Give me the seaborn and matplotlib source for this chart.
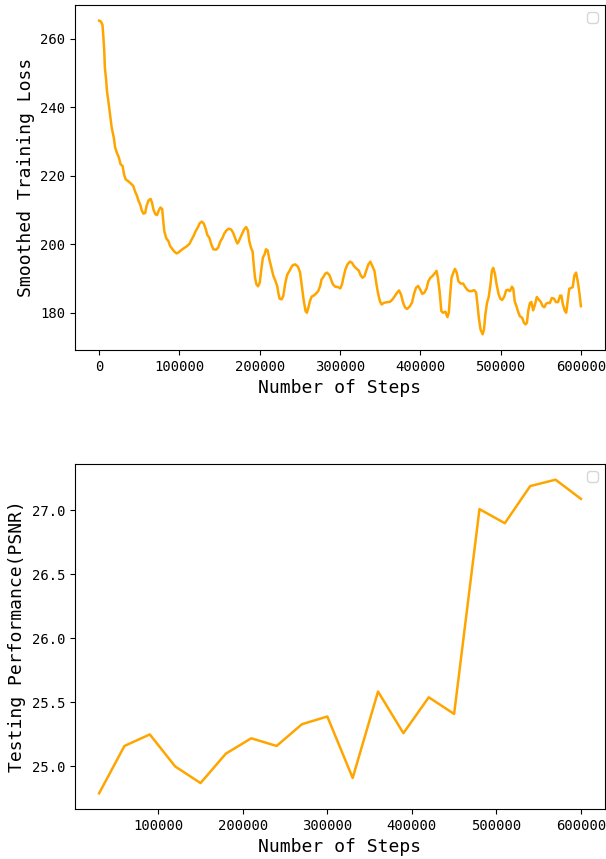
import matplotlib
matplotlib.use("Agg")
import matplotlib.pyplot as plt
import seaborn as sns
import pandas as pd

plt.rcParams['font.family'] = ['DejaVu Sans Mono', 'DejaVu Sans']

# ---- Top panel: smoothed training loss ----
train_steps = [
    0, 2100, 4200, 5100, 6400, 7200, 8900, 9800, 11500, 13600, 15700, 18300, 20000,
    22100, 24600, 26800, 29300, 31000, 33100, 36100, 39500, 42500, 44600, 47200,
    48900, 51400, 53100, 55200, 57400, 59100, 61600, 64200, 65900, 67600, 70100,
    72200, 74400, 76500, 78600, 79900, 81200, 83700, 86300, 88400, 91400, 93900,
    96500, 99000, 102000, 105400, 108800, 112600, 115100, 117700, 120200, 123200,
    125300, 127900, 130400, 133000, 134700, 137200, 139800, 142300, 145700, 148300,
    150800, 153800, 155900, 158500, 161500, 164400, 167000, 169500, 172100, 173800,
    176300, 178500, 180600, 183100, 185300, 187000, 189100, 191200, 192500, 194200,
    195900, 198000, 200100, 201800, 204000, 206100, 207800, 209900, 212000, 214600,
    217100, 219700, 221800, 223500, 224800, 227300, 229400, 231600, 234100, 237100,
    239200, 241300, 244300, 247700, 250300, 252800, 254900, 257100, 258800, 260500,
    262600, 264700, 267300, 269800, 272800, 275300, 277000, 279200, 281700, 283800,
    286800, 288900, 291100, 294000, 297400, 300400, 302500, 304700, 306800, 309300,
    312300, 314900, 317400, 320800, 323400, 325500, 328000, 330600, 332700, 335300,
    337800, 340300, 342900, 345400, 347600, 349700, 351800, 354800, 359000, 362400,
    365400, 368400, 370900, 373500, 376000, 378600, 381100, 383700, 386700, 389600,
    392200, 394700, 397300, 399800, 402400, 404900, 407900, 410000, 412600, 415100,
    417700, 420200, 421900, 424000, 426200, 428300, 431300, 433800, 435500, 437200,
    438900, 441100, 443200, 445300, 447400, 450400, 453400, 455900, 458500, 461000,
    464000, 467000, 469500, 471200, 472900, 475000, 477600, 479300, 481000, 483100,
    485200, 487400, 489100, 490800, 492900, 495000, 497500, 499700, 501800, 504400,
    506900, 509000, 511600, 514100, 515800, 517500, 519700, 521800, 523900, 526900,
    529000, 531100, 532800, 534500, 536600, 538400, 540500, 542600, 545100, 547700,
    550200, 552400, 554500, 556600, 558700, 561300, 563800, 566400, 568900, 571500,
    574100, 575700, 577400, 580000, 581700, 583400, 585500, 587600, 589800, 591900,
    594000, 596200, 598300, 600000,
]
train_loss = [
    265.2, 265.0, 264.0, 261.3, 256.4, 251.5, 247.6, 244.7, 241.8, 237.9, 234.0, 231.1, 228.2,
    226.7, 225.3, 223.3, 222.8, 220.4, 218.9, 218.4, 217.7, 217.0, 215.5, 214.1,
    212.8, 211.4, 209.9, 208.9, 209.1, 211.1, 212.8, 213.2, 212.1, 210.2, 208.7,
    208.5, 209.9, 210.7, 210.2, 206.8, 203.8, 201.7, 200.9, 199.5, 198.5, 197.8,
    197.3, 197.6, 198.2, 198.8, 199.3, 200.1, 201.3, 202.4, 203.8, 205.0,
    206.1, 206.6, 206.0, 204.3, 202.7, 201.9, 199.9, 198.5, 198.4, 199.0,
    200.7, 201.9, 203.1, 204.0, 204.5, 204.3, 203.3, 201.7, 200.2, 200.7,
    202.1, 203.2, 204.3, 205.0, 204.0, 200.9, 199.0, 197.8, 194.1, 190.2,
    188.3, 187.7, 188.8, 192.2, 196.1, 197.0, 198.5, 198.2, 195.6, 193.1,
    190.7, 189.2, 187.8, 185.4, 184.1, 183.9, 184.9, 188.3, 191.0, 192.2,
    193.2, 193.9, 194.1, 193.4, 191.7, 187.3, 183.4, 180.5, 180.0, 181.4,
    183.4, 184.7, 185.0, 185.5, 186.3, 187.8, 189.7, 190.4, 191.4, 191.7,
    191.0, 189.7, 188.3, 187.6, 187.5, 187.1, 188.3, 190.7, 192.7, 194.1,
    194.9, 194.6, 193.6, 192.8, 192.3, 191.0, 190.2, 190.7, 192.3, 194.1,
    194.9, 193.6, 192.2, 188.3, 185.4, 183.4, 182.4, 182.9, 183.1, 183.2,
    183.9, 184.9, 185.8, 186.5, 185.3, 182.9, 181.5, 181.1, 181.8, 182.9,
    185.5, 187.3, 187.8, 186.8, 185.5, 185.8, 187.1, 189.2, 190.2, 190.7,
    191.4, 192.2, 190.2, 186.3, 180.5, 180.0, 180.3, 178.7, 180.0, 185.4,
    190.2, 191.7, 192.8, 191.7, 189.2, 188.5, 188.5, 187.5, 186.7, 186.3,
    186.3, 186.6, 185.9, 182.4, 178.5, 175.1, 173.7, 175.1, 179.5, 182.9,
    184.6, 188.3, 192.2, 193.1, 191.4, 188.3, 185.4, 184.1, 183.7, 184.6,
    186.5, 186.7, 186.3, 187.6, 187.0, 183.4, 181.9, 180.3, 179.0, 178.5,
    177.1, 176.6, 177.1, 180.7, 182.9, 183.1, 180.7, 182.2, 184.6, 183.8,
    183.1, 181.9, 181.6, 182.6, 182.9, 182.8, 184.3, 184.1, 183.1, 183.1,
    185.0, 185.0, 182.6, 180.5, 180.0, 183.1, 187.0, 187.2, 187.5, 190.9,
    191.7, 189.0, 185.4, 181.9,
]

# ---- Bottom panel: testing PSNR ----
test_steps = [30000, 60000, 90000, 120000, 150000, 180000, 210000, 240000, 270000, 300000,
              330000, 360000, 390000, 420000, 450000, 480000, 510000, 540000, 570000, 600000]
test_psnr = [24.79, 25.16, 25.25, 25.00, 24.87, 25.10, 25.22, 25.16, 25.33, 25.39,
             24.91, 25.585, 25.26, 25.54, 25.41, 27.01, 26.90, 27.19, 27.24, 27.09]

x_label = "Number of Steps"
y_label_top = "Smoothed Training Loss"
y_label_bottom = "Testing Performance(PSNR)"

df_train = pd.DataFrame({"step": train_steps, "loss": train_loss})
df_test = pd.DataFrame({"step": test_steps, "psnr": test_psnr})

W, H = 606, 859
fig = plt.figure(figsize=(W / 100, H / 100), dpi=100)
ax1 = fig.add_axes([75 / W, 1 - 350 / H, 530 / W, 345 / H])
ax2 = fig.add_axes([75 / W, 1 - 809 / H, 530 / W, 345 / H])

line_color = "#FFA500"
sns.lineplot(data=df_train, x="step", y="loss", ax=ax1, color=line_color, linewidth=1.8)
sns.lineplot(data=df_test, x="step", y="psnr", ax=ax2, color=line_color, linewidth=1.8)

for ax, yl in ((ax1, y_label_top), (ax2, y_label_bottom)):
    ax.set_xlabel(x_label, fontsize=13)
    ax.set_ylabel(yl, fontsize=13)
    ax.tick_params(labelsize=10)
    ax.ticklabel_format(style="plain", axis="x", useOffset=False)
    ax.legend(loc="upper right")

ax1.set_yticks([180, 200, 220, 240, 260])
ax2.set_yticks([25.0, 25.5, 26.0, 26.5, 27.0])

fig.savefig("out.png", dpi=100)
